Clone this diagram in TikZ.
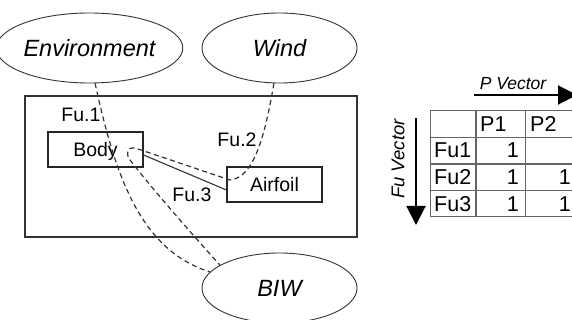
\documentclass[tikz,border=0pt]{standalone}
\usepackage{fontspec}
\setmainfont{Liberation Sans}
\usetikzlibrary{shapes.geometric,arrows.meta}
\begin{document}
\begin{tikzpicture}[x=1pt,y=-1pt,
  oval/.style={ellipse,draw=black!80,line width=0.9pt,minimum width=155pt,minimum height=70pt,inner sep=0pt,font=\fontsize{23.5}{25}\itshape},
  blk/.style={draw=black!85,line width=1.2pt,minimum width=95pt,minimum height=35pt,inner sep=0pt,text depth=0pt,font=\fontsize{19.5}{21}\selectfont},
  lbl/.style={font=\fontsize{19.5}{21}\selectfont,inner sep=0pt},
  flow/.style={draw=black!80,line width=1.2pt,dash pattern=on 5pt off 3.5pt},
  link/.style={draw=black!80,line width=1.1pt},
  cell/.style={font=\fontsize{21.5}{23}\selectfont,inner sep=0pt},
  gridline/.style={draw=black!60,line width=1.3pt},
  vec/.style={line width=2pt,-{Triangle[length=19pt,width=19pt]}},
  vlabel/.style={inner sep=0pt,font=\fontsize{17.5}{19}\itshape},
]
\useasboundingbox (0,0) rectangle (572,320);
\clip (0,0) rectangle (572,320);

% system boundary and elements
\node[draw=black!80,line width=1.3pt,minimum width=332pt,minimum height=141pt,inner sep=0pt] (sys) at (191,166.5) {};
\node[oval] (env) at (89.5,48) {Environment};
\node[oval] (wind) at (279.5,48) {Wind};
\node[oval] (biw) at (279.5,288) {BIW};
\node[blk] (body) at (95.5,149.5) {Body};
\node[blk] (air) at (274.5,184.5) {Airfoil};

% labels
\node[lbl] (fu1) at (81,115) {Fu.1};
\node[lbl] (fu2) at (237,139.5) {Fu.2};
\node[lbl] (fu3) at (192,194.5) {Fu.3};

% connectors
\coordinate (a2) at (230,180);
\coordinate (h1) at (135,148);
\coordinate (h2) at (130,160);
\draw[flow] (env.-81) .. controls (115,175) and (140,250) .. (biw.167);
\draw[flow] (wind.-99) .. controls (266,130) and (255,178) .. (a2) -- (h1)
  .. controls (126,147) and (126,154) .. (h2)
  .. controls (150,186) and (190,232) .. (biw.159);
\draw[link] ([yshift=-5.5pt]body.east) -- ([yshift=-5.5pt]air.west);

% vectors
\coordinate (pa) at (474,95);
\coordinate (pb) at (577,95);
\draw[vec] (pa) -- (pb);
\node[vlabel] (pv) at (513,83.5) {P Vector};
\coordinate (fa) at (416,118);
\coordinate (fb) at (416,225);
\draw[vec] (fa) -- (fb);
\node[vlabel,rotate=90,font=\fontsize{18.5}{20}\itshape] (fv) at (398,159) {Fu Vector};

% table
\draw[gridline] (430.7,110.7) rectangle (577,216.7);
\draw[gridline] (430.7,137.3) -- (577,137.3);
\draw[gridline] (430.7,164) -- (577,164);
\draw[gridline] (430.7,190.7) -- (577,190.7);
\draw[gridline] (476,110.7) -- (476,216.7);
\draw[gridline] (525.7,110.7) -- (525.7,216.7);

\node[cell,anchor=west] (p1) at (480,124) {P1};
\node[cell,anchor=west] (p2) at (530,124) {P2};
\node[cell,anchor=west] (r1) at (434,150.6) {Fu1};
\node[cell,anchor=west] (r2) at (434,177.3) {Fu2};
\node[cell,anchor=west] (r3) at (434,204) {Fu3};
\node[cell,anchor=east] (v11) at (519,150.6) {1};
\node[cell,anchor=east] (v21) at (519,177.3) {1};
\node[cell,anchor=east] (v22) at (571,177.3) {1};
\node[cell,anchor=east] (v31) at (519,204) {1};
\node[cell,anchor=east] (v32) at (571,204) {1};
\end{tikzpicture}
\end{document}
